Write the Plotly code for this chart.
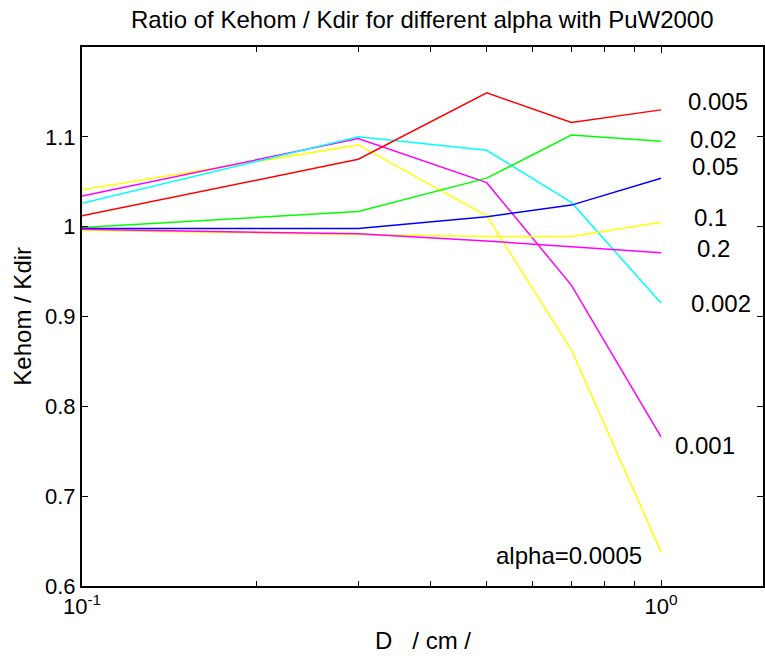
import math
import plotly.graph_objects as go

# ---- data ----
D = [0.1, 0.3, 0.5, 0.7, 1.0]
alpha_labels = ["alpha=0.0005", "0.001", "0.002", "0.005", "0.02", "0.05", "0.1", "0.2"]
ratio_a0005 = [1.041, 1.091, 1.012, 0.863, 0.638]
ratio_a001 = [1.034, 1.098, 1.049, 0.935, 0.766]
ratio_a002 = [1.026, 1.100, 1.085, 1.027, 0.915]
ratio_a005 = [1.012, 1.075, 1.149, 1.116, 1.130]
ratio_a02 = [0.999, 1.017, 1.054, 1.102, 1.095]
ratio_a05 = [0.998, 0.998, 1.011, 1.024, 1.054]
ratio_a1 = [0.996, 0.991, 0.989, 0.989, 1.005]
ratio_a2 = [0.997, 0.992, 0.984, 0.978, 0.971]
series = [ratio_a0005, ratio_a001, ratio_a002, ratio_a005, ratio_a02, ratio_a05, ratio_a1, ratio_a2]

x_tickvals = [0.1, 1.0]
x_ticktext = ["10<sup>-1</sup>", "10<sup>0</sup>"]
x_minor_tickvals = [0.2, 0.3, 0.4, 0.5, 0.6, 0.7, 0.8, 0.9]
y_tickvals = [0.6, 0.7, 0.8, 0.9, 1.0, 1.1]
y_ticktext = ["0.6", "0.7", "0.8", "0.9", "1", "1.1"]

# ---- styling / label placement (not data) ----
colors = ["#FFFF00", "#FF00FF", "#00FFFF", "#FF0000", "#00FF00", "#0000FF", "#FFFF00", "#FF00FF"]
label_pos = [(0.514, 0.6345), (1.050, 0.7565), (1.117, 0.9146), (1.105, 1.139),
             (1.114, 1.0965), (1.123, 1.0667), (1.132, 1.010), (1.146, 0.9757)]
FONT = "Liberation Sans, Arial, Helvetica, sans-serif"

fig = go.Figure()
for ys, c, name in zip(series, colors, alpha_labels):
    fig.add_trace(go.Scatter(x=D, y=ys, mode="lines", line=dict(color=c, width=1.5),
                             name=name, showlegend=False))

for (lx, ly), txt in zip(label_pos, alpha_labels):
    fig.add_annotation(x=math.log10(lx), y=ly, xref="x", yref="y", text=txt,
                       showarrow=False, xanchor="left", yanchor="middle",
                       font=dict(family=FONT, size=24, color="black"))

W, H = 765, 660
L, R, T, B = 82, 0, 47, 74
pw, ph = W - L - R, H - T - B

fig.add_annotation(x=0.5, y=1 + (T - 20) / ph, xref="paper", yref="paper",
                   text="Ratio of Kehom / Kdir for different alpha with PuW2000",
                   showarrow=False, xanchor="center", yanchor="middle",
                   font=dict(family=FONT, size=24, color="black"))
fig.add_annotation(x=0.5, y=-(640 - (H - B)) / ph, xref="paper", yref="paper",
                   text="D\u00a0\u00a0\u00a0/ cm /",
                   showarrow=False, xanchor="center", yanchor="middle",
                   font=dict(family=FONT, size=24, color="black"))
fig.add_annotation(x=-(L - 22) / pw, y=0.5, xref="paper", yref="paper",
                   text="Kehom / Kdir", textangle=-90,
                   showarrow=False, xanchor="center", yanchor="middle",
                   font=dict(family=FONT, size=24, color="black"))

axis_common = dict(showline=True, linecolor="black", linewidth=2, mirror="ticks",
                   ticks="inside", ticklen=6, tickwidth=1, tickcolor="black",
                   showgrid=False, zeroline=False,
                   tickfont=dict(family=FONT, size=22, color="black"))
fig.update_xaxes(type="log", range=[-1, math.log10(1.5)], tickmode="array",
                 tickvals=x_tickvals, ticktext=x_ticktext,
                 minor=dict(tickmode="array", tickvals=x_minor_tickvals, ticks="inside",
                            ticklen=5, tickwidth=1, tickcolor="black", showgrid=False),
                 **axis_common)
fig.update_yaxes(range=[0.6, 1.2], tickmode="array", tickvals=y_tickvals,
                 ticktext=y_ticktext, **axis_common)

fig.update_layout(width=W, height=H, autosize=False,
                  margin=dict(l=L, r=R, t=T, b=B, pad=0),
                  plot_bgcolor="white", paper_bgcolor="white",
                  font=dict(family=FONT, color="black"))

fig.write_html("out.html")
